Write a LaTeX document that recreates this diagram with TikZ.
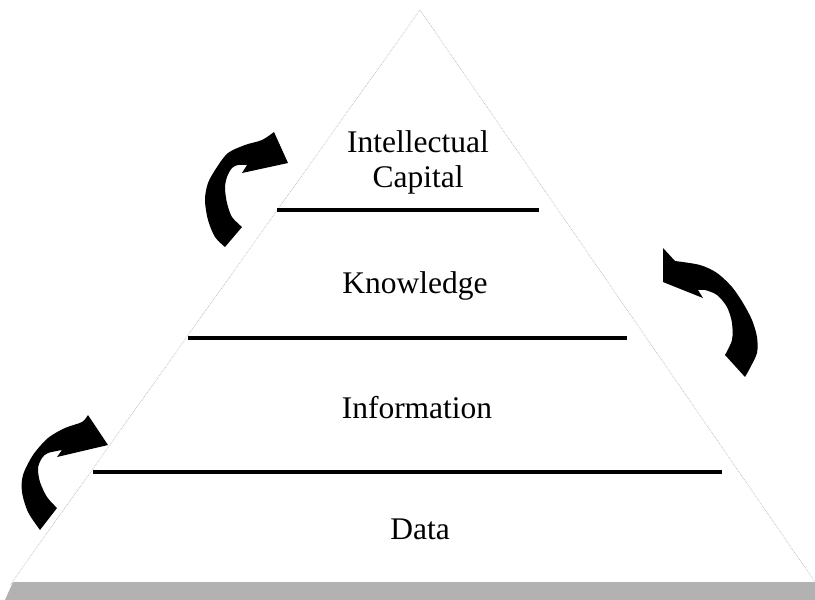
\documentclass[tikz,border=0pt]{standalone}
\usepackage{fontspec}
\setmainfont{Liberation Serif}
\usetikzlibrary{positioning}
\tikzset{
 lbl/.style
  = {font=\fontsize{31.5}{35}\selectfont, inner sep=0pt, align=center},
 sep/.style
  = {draw, line width=3.2pt},
 side/.style
  = {draw=gray!55, densely dotted, line width=0.7pt},
 curl/.style
  = {fill=black},
 ground/.style
  = {fill=gray!60},
}

\begin{document}
\begin{tikzpicture}[x=1pt,y=-1pt]
\useasboundingbox (0,0) rectangle (815,600);

% Pyramid sides
\coordinate (top) at (420,10);
\coordinate (bl) at (10,585);
\coordinate (br) at (815,582);
\draw[side] (bl) -- (top) -- (br);

% Ground band
\fill[ground] (13,582) -- (815,582) -- (815,600) -- (5,600) -- cycle;

% Layer lines
\draw[sep] (277,210) -- (539,210);
\draw[sep] (188,338) -- (627,338);
\draw[sep] (93,472) -- (722,472);

% Labels
\node[lbl,anchor=base] (ic) at (418,187) {Intellectual\\Capital};
\node[lbl,anchor=base] (kn) at (415,293) {Knowledge};
\node[lbl,anchor=base] (inf) at (417,418) {Information};
\node[lbl,anchor=base] (dat) at (420,539) {Data};

% Upper left arrow
\fill[curl] (225,247) -- plot[smooth] coordinates {(225,247) (215,237) (208,220) (205,200) (208,183) (217,167) (228,153) (245,145) (262,140) (274,132)}
  -- (288,163) -- (242,173) -- (247,165)
  -- plot[smooth] coordinates {(247,165) (238,165) (232,168) (227,177) (225,188) (227,203) (232,217) (242,227)} -- cycle;

% Right arrow
\fill[curl] (663,248) -- (675,261)
  -- plot[smooth] coordinates {(675,261) (700,265) (717,273) (732,287) (743,303) (752,320) (757,337) (757,353) (750,368) (745,377)}
  -- (725,355)
  -- plot[smooth] coordinates {(725,355) (732,340) (732,323) (727,307) (717,295) (705,290) (698,290)}
  -- (703,298) -- (663,282) -- cycle;

% Lower left arrow
\fill[curl] (40,530) -- plot[smooth] coordinates {(40,530) (28,512) (22,492) (23,475) (33,455) (48,438) (65,428) (82,422) (88,415)}
  -- (108,445) -- (57,457) -- (62,450)
  -- plot[smooth] coordinates {(62,450) (48,453) (42,458) (38,468) (40,482) (47,497) (57,508)} -- cycle;

\end{tikzpicture}
\end{document}
